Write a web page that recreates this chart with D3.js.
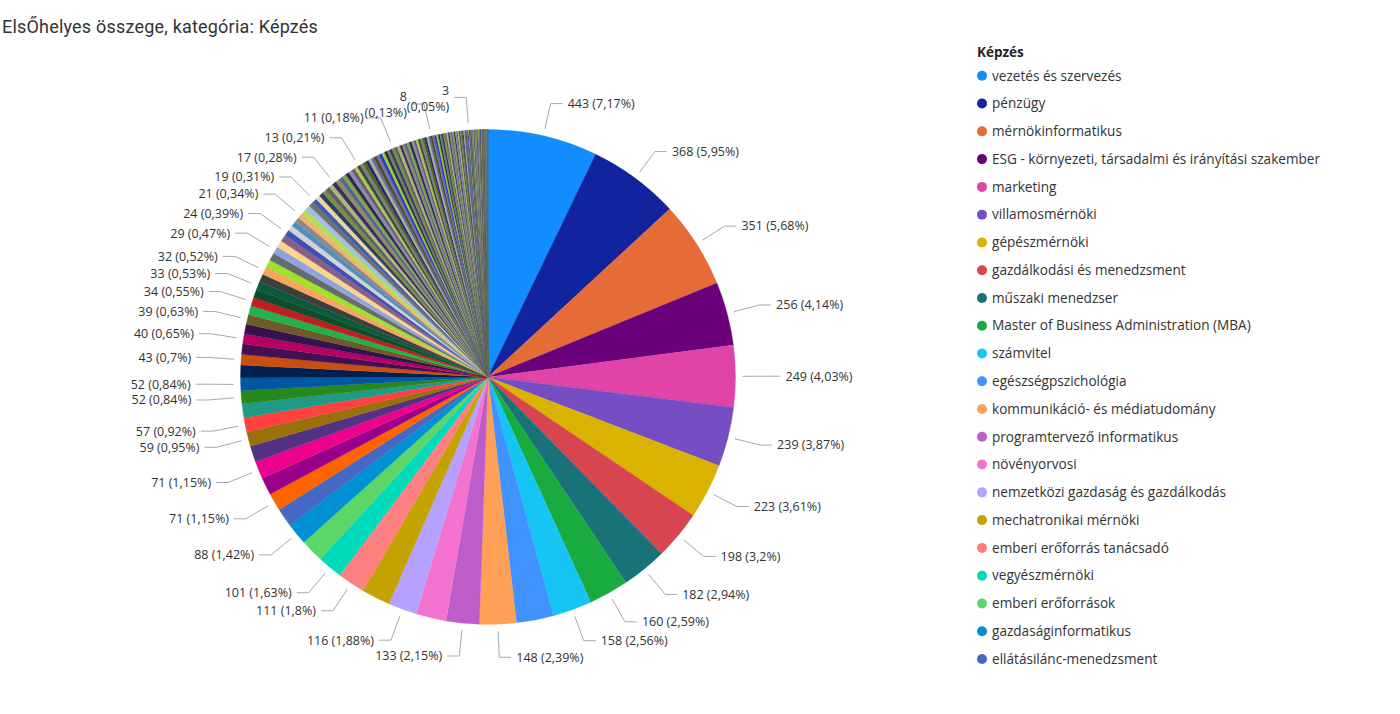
<!DOCTYPE html>
<html><head><meta charset="utf-8">
<script src="https://cdn.jsdelivr.net/npm/d3@7"></script>
<style>
body{margin:0;background:#fff;}
svg{display:block;}
</style></head><body>
<svg id="chart" width="1400" height="714"></svg>
<script>
// ---------- data ----------
const title = "ElsŐhelyes összege, kategória: Képzés";
const legendTitle = "Képzés";
const categories = [
  "vezetés és szervezés","pénzügy","mérnökinformatikus",
  "ESG - környezeti, társadalmi és irányítási szakember","marketing",
  "villamosmérnöki","gépészmérnöki","gazdálkodási és menedzsment",
  "műszaki menedzser","Master of Business Administration (MBA)","számvitel",
  "egészségpszichológia","kommunikáció- és médiatudomány","programtervező informatikus",
  "növényorvosi","nemzetközi gazdaság és gazdálkodás","mechatronikai mérnöki",
  "emberi erőforrás tanácsadó","vegyészmérnöki","emberi erőforrások",
  "gazdaságinformatikus","ellátásilánc-menedzsment"
];
// slice values, in drawing order (descending)
const values = [
 443,368,351,256,249,239,223,198,182,160,
 158,150,148,133,122,116,115,111,101,93,
 88,75,71,71,71,65,59,57,56,52,
 52,50,43,42,40,40,39,36,34,34,
 33,33,32,31,31,29,28,28,24,22,
 21,21,21,21,21,20,19,18,18,17,
 17,17,17,17,16,15,15,14,14,13,
 13,13,13,12,12,12,12,12,12,11,
 11,11,11,11,11,11,10,10,10,10,
 10,9,9,9,9,9,9,8,8,8,
 8,8,8,7,7,7,7,7,6,6,
 6,6,6,6,5,5,5,5,5,5,
 4,4,4,4,4,4,4,3,3,3,
 3,3,3,3,3,3,3,3,3,2,
 2,2,2,2,2,2,2,2,2,2,
 2,1,1,1,1,1,1,1,1,1,
 1,1,1,1,1,1,1,1,1
];
// 1-based positions of slices that show a data label in the picture
const labeledSlices = [1,2,3,4,5,6,7,8,9,10,11,13,14,16,18,19,21,23,25,27,28,30,31,33,35,37,39,41,43,46,49,53,57,63,71,84,101,128];

const themeColors = ["#118DFF","#12239E","#E66C37","#6B007B","#E044A7","#744EC2","#D9B300","#D64550","#197278","#1AAB40",
 "#15C6F4","#4092FF","#FFA058","#BE5DC9","#F472D0","#B5A1FF","#C4A200","#FF8080","#00DBBC","#5BD667",
 "#0091D5","#4668C5","#FF6300","#99008A","#EC008C","#533285","#99700A","#FF4141","#1F9A85","#25891C",
 "#0057A2","#002050","#C94F0F","#450F54","#B60064","#34124F","#6B5B26","#22B24C","#C01E23","#0E4D2C",
 "#0B5A3A","#3E3E3E","#F6A55D","#A0E22B","#666B6E","#8FA3DD","#FBD58A","#8B6087","#3F51B5","#D3D3D3",
 "#4D8FC3","#8A8A8A","#F4B271","#B3E051","#9FBFE3","#707070","#3D5DAF","#EFD2A2"];
const extraColors = ["#2E3F5C","#7C8B45","#5F5F5F","#A7B97A","#3B2F5E","#8F8A6A","#4D6A8A","#8CA04A","#25304A","#8E88B0",
 "#6E5A78","#A9C84E","#3A4A3A","#7E7E7E","#56631F","#1E2A6E","#B0B090","#5B6F98","#4A4A2A","#7D68A0",
 "#1F3FBF","#9ACD32","#2D2D4D","#6F7F5F"];

// ---------- layout ----------
const svg = d3.select("#chart");
const cx = 488, cy = 377, R = 247.5;
const LABEL_FONT = "12.5px 'Segoe UI', 'Open Sans', sans-serif";
const color = i => i < themeColors.length ? themeColors[i] : extraColors[(i - themeColors.length) % extraColors.length];

const total = d3.sum(values);
const fmtPct = v => {
  const p = Math.round(v / total * 10000) / 100;
  return String(p).replace(".", ",");
};

svg.append("text")
  .attr("x", 2).attr("y", 27).attr("dy", "0.35em")
  .style("font", "18px Roboto, 'DejaVu Sans', sans-serif")
  .style("letter-spacing", "0.2px")
  .style("fill", "#333")
  .text(title);

const arcs = d3.pie().sort(null).value(d => d).startAngle(0).endAngle(2 * Math.PI)(values);
const arc = d3.arc().innerRadius(0).outerRadius(R);

const g = svg.append("g").attr("transform", `translate(${cx},${cy})`);
g.selectAll("path.slice").data(arcs).enter().append("path")
  .attr("class", "slice")
  .attr("d", arc)
  .attr("fill", (d, i) => color(i))
  .attr("stroke", (d, i) => color(i))
  .attr("stroke-width", 0.3);

// measuring helper
const meas = svg.append("text").style("font", LABEL_FONT).attr("x", -1000).attr("y", -1000);
const tw = s => { meas.text(s); return meas.node().getComputedTextLength(); };

const LH = 16;
const placed = [];
const hits = b => placed.some(p => b.x0 < p.x1 - 1.5 && b.x1 > p.x0 + 1.5 && b.y0 < p.y1 - 0.5 && b.y1 > p.y0 + 0.5);
const lblG = svg.append("g");
const lineGen = d3.line();

labeledSlices.forEach(pos => {
  const a = arcs[pos - 1];
  const v = a.value;
  const mid = (a.startAngle + a.endAngle) / 2;
  const s = Math.sin(mid), c = Math.cos(mid);
  const side = s >= 0 ? 1 : -1;
  const ex = cx + (R + 33) * s, ey = cy - (R + 33) * c;
  const sx = cx + (R + 7) * s, sy = cy - (R + 7) * c;
  const tx = ex + side * 17;
  const t1 = `${v} (${fmtPct(v)}%)`;
  const w1 = tw(t1);
  const box = (w, y, h) => side > 0 ? {x0: tx, x1: tx + w, y0: y - h / 2, y1: y + h / 2}
                                    : {x0: tx - w, x1: tx, y0: y - h / 2, y1: y + h / 2};
  let y = ey, wrap = false, b = box(w1, ey, LH);
  if (hits(b)) {
    const l1 = String(v), l2 = `(${fmtPct(v)}%)`;
    const w2 = Math.max(tw(l1), tw(l2));
    const b2 = box(w2, ey, 2 * LH);
    if (!hits(b2)) { wrap = true; b = b2; }
    else {
      const dir = side < 0 ? -1 : 1;
      for (let k = 1; k < 60; k++) {
        const bb = box(w1, ey + dir * k, LH);
        if (!hits(bb)) { y = ey + dir * k; b = bb; break; }
      }
    }
  }
  placed.push(b);
  lblG.append("path")
    .attr("d", lineGen([[sx, sy], [ex, y], [ex + side * 12, y]]))
    .attr("fill", "none").attr("stroke", "#A8A8A8").attr("stroke-width", 1);
  const t = lblG.append("text")
    .attr("text-anchor", side > 0 ? "start" : "end")
    .style("font", LABEL_FONT).style("fill", "#333");
  if (!wrap) {
    t.attr("x", tx).attr("y", y).attr("dy", "0.35em").text(t1);
  } else {
    t.append("tspan").attr("x", tx).attr("y", y - 7).attr("dy", "0.35em").text(String(v));
    t.append("tspan").attr("x", tx).attr("y", y + 9).attr("dy", "0.35em").text(`(${fmtPct(v)}%)`);
  }
});
meas.remove();

// ---------- legend ----------
const lg = svg.append("g");
lg.append("text").attr("x", 977).attr("y", 52).attr("dy", "0.35em")
  .style("font", "bold 13.5px 'Segoe UI', 'Open Sans', sans-serif").style("fill", "#252423")
  .text(legendTitle);
const legendY = d3.scaleLinear().domain([0, 1]).range([75.8, 75.8 + 27.77]);
categories.forEach((name, i) => {
  const yy = legendY(i);
  lg.append("circle").attr("cx", 982).attr("cy", yy).attr("r", 5).attr("fill", color(i));
  lg.append("text").attr("x", 992).attr("y", yy).attr("dy", "0.35em")
    .style("font", "13.6px 'Segoe UI', 'Open Sans', sans-serif").style("fill", "#333")
    .text(name);
});
</script>
</body></html>
